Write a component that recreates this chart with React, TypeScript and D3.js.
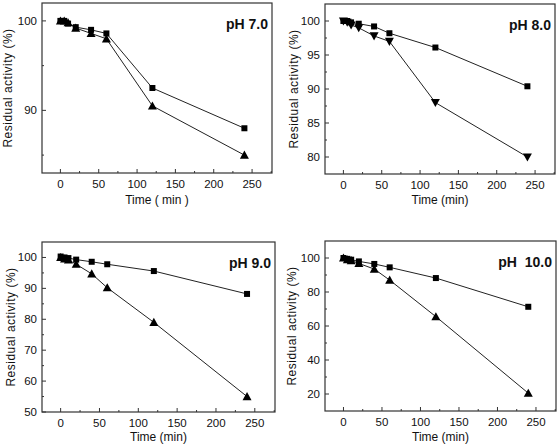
import React from "react";
import * as d3 from "d3";

const times = [0, 5, 10, 20, 40, 60, 120, 240];

const ph7Square = [100, 100, 99.7, 99.3, 99.0, 98.6, 92.5, 88.0];
const ph7Triangle = [100, 100, 99.8, 99.2, 98.6, 98.0, 90.5, 85.0];
const ph8Square = [100, 100, 99.8, 99.6, 99.2, 98.2, 96.1, 90.4];
const ph8Triangle = [100, 99.8, 99.4, 99.0, 97.8, 97.0, 88.0, 80.0];
const ph9Square = [100.3, 100, 99.8, 99.3, 98.6, 97.8, 95.6, 88.2];
const ph9Triangle = [100, 99.5, 99.2, 97.8, 94.7, 90.2, 79.0, 55.0];
const ph10Square = [100, 99.5, 99, 98, 96.5, 94.5, 88.2, 71.3];
const ph10Triangle = [100, 99, 98.5, 96.8, 93.5, 87.0, 65.5, 20.5];

const xTicks = [0, 50, 100, 150, 200, 250];
const yTicks7 = [90, 100];
const yTicks8 = [80, 85, 90, 95, 100];
const yTicks9 = [50, 60, 70, 80, 90, 100];
const yTicks10 = [20, 40, 60, 80, 100];

const titles = ["pH 7.0", "pH 8.0", "pH 9.0", "pH  10.0"];
const xTitles = ["Time ( min )", "Time (min)", "Time (min)", "Time (min)"];
const yTitle = "Residual activity (%)";

type PanelProps = {
  box: [number, number, number, number];
  yDomain: [number, number];
  yTicks: number[];
  squares: number[];
  triangles: number[];
  down?: boolean;
  title: string;
  xTitle: string;
  yLabelX: number;
  xTitleY: number;
};

const FONT = "Liberation Sans, Arial, sans-serif";
const INK = "#111";

function Panel(p: PanelProps) {
  const [x0, x1, y0, y1] = p.box;
  const x = d3.scaleLinear().domain([-24, 276]).range([x0, x1]);
  const y = d3.scaleLinear().domain(p.yDomain).range([y1, y0]);
  const step = p.yTicks[1] - p.yTicks[0];
  const yMinor = d3
    .range(p.yTicks[0] - step / 2, p.yDomain[1], step)
    .filter((v) => v > p.yDomain[0] && v < p.yDomain[1] && !p.yTicks.some((t) => Math.abs(t - v) < 1e-6));
  const xMinor = [25, 75, 125, 175, 225, 275].filter((v) => v < 276);
  const line = d3
    .line<number>()
    .x((_, i) => x(times[i]))
    .y((d) => y(d));
  const sq = 6;
  const tri = (cx: number, cy: number, down: boolean) => {
    const s = 4.5;
    return down
      ? `M${cx - s},${cy - s * 0.8}L${cx + s},${cy - s * 0.8}L${cx},${cy + s}Z`
      : `M${cx - s},${cy + s * 0.8}L${cx + s},${cy + s * 0.8}L${cx},${cy - s}Z`;
  };
  return (
    <g>
      <rect x={x0} y={y0} width={x1 - x0} height={y1 - y0} fill="none" stroke="#333" strokeWidth={1.2} />
      {xTicks.map((t) => (
        <g key={"xt" + t}>
          <line x1={x(t)} x2={x(t)} y1={y1} y2={y1 - 4} stroke="#333" />
          <text x={x(t)} y={y1 + 15} textAnchor="middle" fontSize={11.5} fontFamily={FONT} fill={INK}>
            {t}
          </text>
        </g>
      ))}
      {xMinor.map((t) => (
        <line key={"xm" + t} x1={x(t)} x2={x(t)} y1={y1} y2={y1 - 2} stroke="#333" />
      ))}
      {p.yTicks.map((t) => (
        <g key={"yt" + t}>
          <line x1={x0} x2={x0 + 4} y1={y(t)} y2={y(t)} stroke="#333" />
          <text x={x0 - 5} y={y(t) + 4} textAnchor="end" fontSize={11.5} fontFamily={FONT} fill={INK}>
            {t}
          </text>
        </g>
      ))}
      {yMinor.map((t) => (
        <line key={"ym" + t} x1={x0} x2={x0 + 2} y1={y(t)} y2={y(t)} stroke="#333" />
      ))}
      <path d={line(p.squares) || ""} fill="none" stroke="#222" strokeWidth={1} />
      <path d={line(p.triangles) || ""} fill="none" stroke="#222" strokeWidth={1} />
      {p.squares.map((v, i) => (
        <rect key={"s" + i} x={x(times[i]) - sq / 2} y={y(v) - sq / 2} width={sq} height={sq} fill="#000" />
      ))}
      {p.triangles.map((v, i) => (
        <path key={"t" + i} d={tri(x(times[i]), y(v), !!p.down)} fill="#000" />
      ))}
      <text x={x1 - 4} y={y0 + 26} textAnchor="end" fontSize={14} fontWeight="bold" fontFamily={FONT} fill={INK}
        style={{ whiteSpace: "pre" }}>
        {p.title}
      </text>
      <text
        x={(x0 + x1) / 2}
        y={p.xTitleY}
        textAnchor="middle"
        fontSize={12}
        fontFamily={FONT}
        fill={INK}
        style={{ whiteSpace: "pre" }}
      >
        {p.xTitle}
      </text>
      <text
        transform={`translate(${p.yLabelX},${(y0 + y1) / 2}) rotate(-90)`}
        textAnchor="middle"
        fontSize={12}
        letterSpacing={0.5}
        fontFamily={FONT}
        fill={INK}
      >
        {yTitle}
      </text>
    </g>
  );
}

export default function App() {
  return (
    <svg width={560} height={444} style={{ position: "absolute", left: 0, top: 0, background: "#fff" }}>
      <rect width={560} height={444} fill="#fff" />
      <Panel box={[42, 272, 3, 173]} yDomain={[83, 102]} yTicks={yTicks7} squares={ph7Square} triangles={ph7Triangle}
        title={titles[0]} xTitle={xTitles[0]} yLabelX={12} xTitleY={204} />
      <Panel box={[325, 555, 4, 174]} yDomain={[77.5, 102.5]} yTicks={yTicks8} squares={ph8Square} triangles={ph8Triangle}
        down title={titles[1]} xTitle={xTitles[1]} yLabelX={298} xTitleY={204} />
      <Panel box={[42, 275, 242, 412]} yDomain={[50, 105]} yTicks={yTicks9} squares={ph9Square} triangles={ph9Triangle}
        title={titles[2]} xTitle={xTitles[2]} yLabelX={15} xTitleY={441} />
      <Panel box={[325, 556, 241, 411]} yDomain={[10, 110]} yTicks={yTicks10} squares={ph10Square} triangles={ph10Triangle}
        title={titles[3]} xTitle={xTitles[3]} yLabelX={296} xTitleY={441} />
    </svg>
  );
}
